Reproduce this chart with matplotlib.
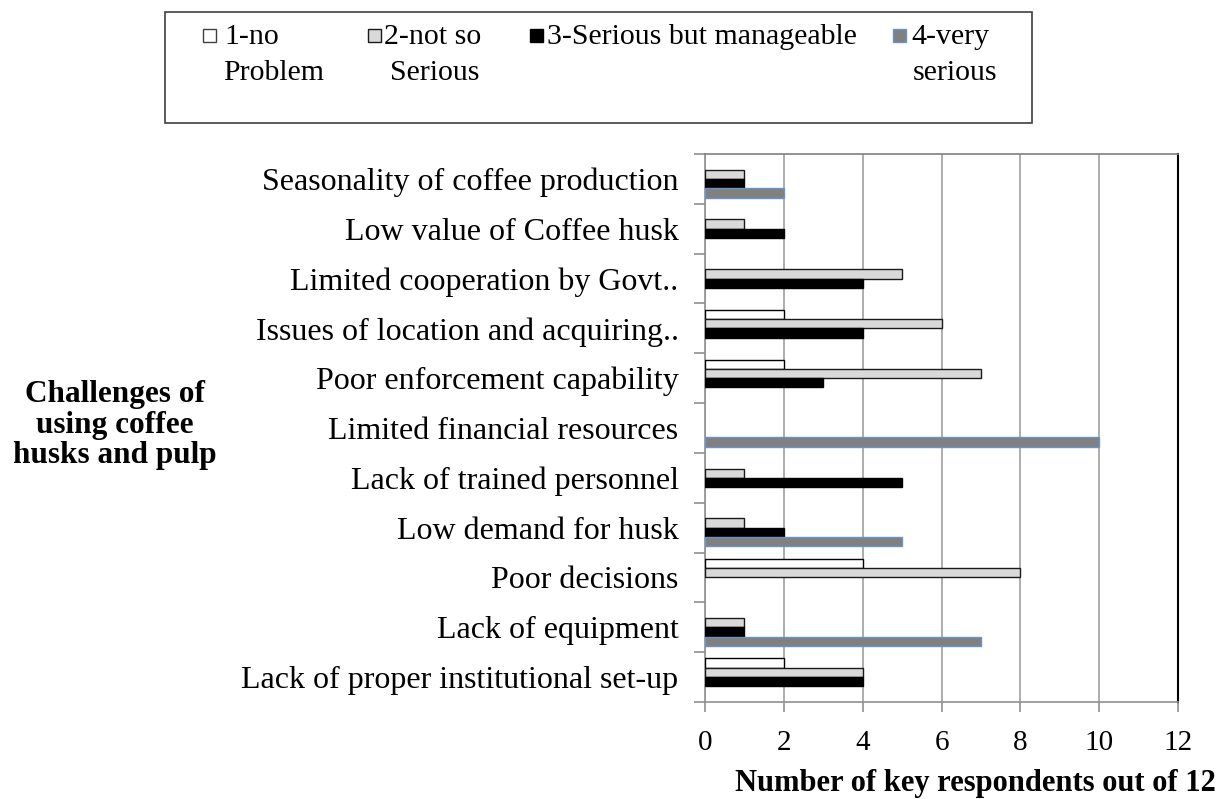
import matplotlib
matplotlib.use("Agg")
import matplotlib.pyplot as plt
from matplotlib.patches import Rectangle
import numpy as np

categories = [
    "Seasonality of coffee production",
    "Low value of Coffee husk",
    "Limited cooperation by Govt..",
    "Issues of location and acquiring..",
    "Poor enforcement capability",
    "Limited financial resources",
    "Lack of trained personnel",
    "Low demand for husk",
    "Poor decisions",
    "Lack of equipment",
    "Lack of proper institutional set-up",
]
no_problem = [0, 0, 0, 2, 2, 0, 0, 0, 4, 0, 2]
not_so_serious = [1, 1, 5, 6, 7, 0, 1, 1, 8, 1, 4]
serious_manageable = [1, 2, 4, 4, 3, 0, 5, 2, 0, 1, 4]
very_serious = [2, 0, 0, 0, 0, 10, 0, 5, 0, 7, 0]
series_labels = ["1-no\nProblem", "2-not so\nSerious", "3-Serious but manageable", "4-very\nserious"]
x_ticks = [0, 2, 4, 6, 8, 10, 12]

face = ["#FFFFFF", "#D9D9D9", "#000000", "#808080"]
edge = ["#000000", "#1A1A1A", "#000000", "#6A93C9"]

plt.rcParams['font.family'] = ['Liberation Serif', 'DejaVu Serif']

W, H = 1220, 799
fig = plt.figure(figsize=(W / 100, H / 100), dpi=100)

def fx(px):
    return px / W

def fy(py):
    return 1 - py / H

ax = fig.add_axes([fx(705), fy(702), fx(1178) - fx(705), fy(154) - fy(702)])

y = np.arange(len(categories))
h = 0.187
data = [no_problem, not_so_serious, serious_manageable, very_serious]
for i, vals in enumerate(data):
    vals = np.asarray(vals, dtype=float)
    lw = np.where(vals > 0, 1.0, 0.0)
    ax.barh(y + (i - 1.5) * h, vals, height=h, color=face[i], edgecolor=edge[i],
            linewidth=lw, zorder=3)

ax.set_xlim(0, 12)
ax.set_ylim(len(categories) - 0.5, -0.5)
ax.set_xticks(x_ticks)
ax.set_xticklabels([str(t) for t in x_ticks], fontsize=21)
ax.grid(axis='x', color='#A0A0A0', linewidth=1.2, zorder=0)

ax.set_yticks(np.arange(-0.5, len(categories) + 0.5, 1.0))
ax.set_yticklabels([])
ax.set_yticks(y, minor=True)
ax.set_yticklabels(categories, minor=True, fontsize=23)
ax.tick_params(axis='y', which='minor', length=0, pad=19)
ax.tick_params(axis='y', which='major', length=8, color='#909090', width=1.2, direction='out')
ax.tick_params(axis='x', which='major', length=7, color='#909090', width=1.2, direction='out', pad=13)

for s in ['left', 'bottom']:
    ax.spines[s].set_color('#909090')
    ax.spines[s].set_linewidth(1.2)
ax.spines['top'].set_color('#808080')
ax.spines['top'].set_linewidth(1.2)
ax.spines['right'].set_color('#000000')
ax.spines['right'].set_linewidth(1.5)

fig.text(fx(975), fy(784), "Number of key respondents out of 12", fontsize=22,
         fontweight='bold', ha='center', va='center')
fig.text(fx(115), fy(425), "Challenges of\nusing coffee\nhusks and pulp", fontsize=22.5,
         fontweight='bold', ha='center', va='center', multialignment='center',
         linespacing=1.05)

# legend box
fig.patches.append(Rectangle((fx(165), fy(123)), fx(1032) - fx(165), fy(12) - fy(123),
                             transform=fig.transFigure, facecolor='white',
                             edgecolor='#404040', linewidth=1.2))
marker_x = [203, 368, 530, 893]
text_x = [224, 384, 547, 911]
line2_x = [223, 390, None, 997]
for i in range(4):
    fig.patches.append(Rectangle((fx(marker_x[i]), fy(42)), fx(13), 13 / H,
                                 transform=fig.transFigure, facecolor=face[i],
                                 edgecolor=edge[i] if i != 0 else '#404040', linewidth=1.0))
    parts = series_labels[i].split("\n")
    fig.text(fx(text_x[i]), fy(37), parts[0], fontsize=21.5, ha='left', va='center')
    if len(parts) > 1:
        ha = 'right' if i == 3 else 'left'
        fig.text(fx(line2_x[i]), fy(73), parts[1], fontsize=21.5, ha=ha, va='center')

fig.savefig("out.png", dpi=100)
